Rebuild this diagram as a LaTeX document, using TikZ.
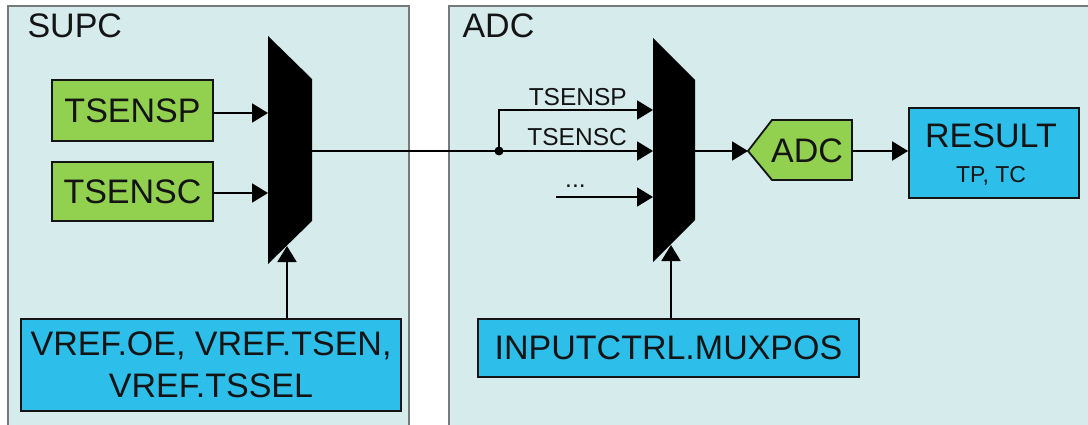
\documentclass[tikz,border=0pt]{standalone}
\usepackage{fontspec}
\setmainfont{Liberation Sans}
\usetikzlibrary{arrows.meta}
\definecolor{panelfill}{RGB}{213,235,236}
\definecolor{panelline}{RGB}{118,122,122}
\definecolor{grn}{RGB}{146,208,80}
\definecolor{blu}{RGB}{45,190,234}
\definecolor{ink}{RGB}{20,20,20}
\tikzset{
  big/.style={font=\fontsize{34}{42}\selectfont, text=ink},
  small/.style={font=\fontsize{24.5}{28}\selectfont, text=ink},
  tiny/.style={font=\fontsize{23}{28}\selectfont, text=ink},
  gbox/.style={draw=ink, line width=1.8pt, fill=grn, inner sep=0pt, big},
  bbox/.style={draw=ink, line width=1.8pt, fill=blu, inner sep=0pt, big, align=center},
  arr/.style={line width=1.9pt, -{Triangle[length=16pt,width=19pt]}},
  wire/.style={line width=1.9pt},
  muxfill/.style={fill=black},
  paneledge/.style={draw=panelline, line width=1.6pt},
}
\begin{document}
\begin{tikzpicture}[x=1pt,y=-1pt]
\useasboundingbox (0,0) rectangle (1088,425);
% panels
\begin{scope}
  \clip (0,0) rectangle (1088,425);
  \fill[panelfill] (8,6) rectangle (409,440);
  \draw[paneledge] (8,440) -- (8,6) -- (409,6) -- (409,440);
  \fill[panelfill] (449,6) rectangle (1100,440);
  \draw[paneledge] (449,440) -- (449,6) -- (1100,6);
\end{scope}
\node[big, anchor=base west] (supctitle) at (24,38) {SUPC};
\node[big, anchor=base west] (adctitle) at (459,38) {ADC};

% SUPC side
\node[gbox, minimum width=161pt, minimum height=61pt] (tsp) at (132.5,110.5) {TSENSP};
\node[gbox, minimum width=161pt, minimum height=59pt] (tsc) at (132.5,191.5) {TSENSC};
\fill[muxfill] (268,36) -- (312,79) -- (312,221) -- (268,264) -- cycle;
\coordinate (m1in1) at (268,113);
\coordinate (m1in2) at (268,193);
\coordinate (m1out) at (312,151);
\coordinate (m1sel) at (287,246);
\draw[arr] (tsp.east |- m1in1) -- (m1in1);
\draw[arr] (tsc.east |- m1in2) -- (m1in2);
\node[bbox, minimum width=380pt, minimum height=92pt] (vref) at (211,365)
  {VREF.OE, VREF.TSEN,\\VREF.TSSEL};
\draw[arr] (vref.north -| m1sel) -- (m1sel);

% ADC side
\coordinate (j) at (499,151);
\draw[wire] (m1out) -- (j);
\fill (j) circle (4.5pt);
\fill[muxfill] (653,38) -- (695,80) -- (695,220) -- (653,262) -- cycle;
\coordinate (m2in1) at (653,110);
\coordinate (m2in2) at (653,151);
\coordinate (m2in3) at (653,197);
\coordinate (m2out) at (695,151);
\coordinate (m2sel) at (671,245);
\coordinate (dots) at (556,197);
\draw[arr] (j) -- (j |- m2in1) -- (m2in1);
\draw[arr] (j) -- (m2in2);
\draw[arr] (dots) -- (m2in3);
\node[small, anchor=base east, inner sep=0pt] (lsp) at (627,106) {TSENSP};
\node[small, anchor=base east, inner sep=0pt] (lsc) at (627,146) {TSENSC};
\node[small, anchor=base west, inner sep=0pt] (ldots) at (565,188) {...};

\filldraw[fill=grn, draw=ink, line width=1.8pt] (748,151) -- (772,120) -- (852,120) -- (852,180) -- (772,180) -- cycle;
\coordinate (adctip) at (748,151);
\coordinate (adcout) at (852,151);
\node[big, inner sep=0pt] (adc) at (807,151) {ADC};
\draw[arr] (m2out) -- (adctip);

\node[bbox, minimum width=170pt, minimum height=90pt] (result) at (994,153) {};
\node[big, anchor=base, inner sep=0pt] (restxt) at (991,148) {RESULT};
\node[tiny, anchor=base, inner sep=0pt] (tptc) at (991,183) {TP, TC};
\draw[arr] (adcout) -- (result.west |- adcout);

\node[bbox, minimum width=381pt, minimum height=58pt] (inp) at (668.5,348) {INPUTCTRL.MUXPOS};
\draw[arr] (inp.north -| m2sel) -- (m2sel);
\end{tikzpicture}
\end{document}
